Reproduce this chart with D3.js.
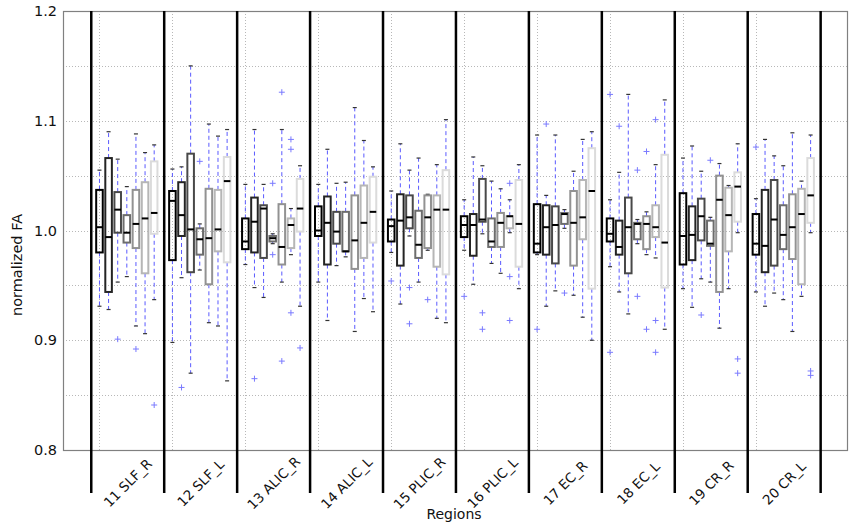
<!DOCTYPE html>
<html>
<head>
<meta charset="utf-8">
<script src="https://cdn.jsdelivr.net/npm/d3@7/dist/d3.min.js"></script>
<style>
  html, body { margin: 0; padding: 0; background: #fff; }
  svg { display: block; font-family: "DejaVu Sans", sans-serif; }
</style>
</head>
<body>
<svg id="chart" width="850" height="528"></svg>
<script>
// Region names along the x axis
const regions = ["11 SLF_R", "12 SLF_L", "13 ALIC_R", "14 ALIC_L", "15 PLIC_R",
                 "16 PLIC_L", "17 EC_R", "18 EC_L", "19 CR_R", "20 CR_L"];

// Seven groups per region, drawn black to light gray
const groupShades = ["#000000", "#242424", "#494949", "#6d6d6d", "#929292", "#b6b6b6", "#dbdbdb"];

// Box statistics, one row per region, one column per group
const whiskerLow = [
  [0.931, 0.928, 0.953, 0.958, 0.913, 0.906, 0.937],
  [0.898, 0.957, 0.870, 0.964, 0.916, 0.913, 0.863],
  [0.969, 0.948, 0.939, 0.988, 0.953, 0.978, 0.931],
  [0.953, 0.918, 0.968, 0.976, 0.908, 0.938, 0.926],
  [0.980, 0.933, 0.995, 0.953, 0.982, 0.920, 0.916],
  [0.982, 0.951, 0.997, 0.970, 0.961, 0.998, 0.947],
  [0.978, 0.931, 0.945, 1.002, 0.941, 0.921, 0.900],
  [0.967, 0.944, 0.924, 0.988, 0.978, 0.975, 0.910],
  [0.947, 0.930, 0.956, 0.953, 0.911, 0.947, 0.998],
  [0.944, 0.931, 0.943, 0.937, 0.908, 0.940, 0.998]
];
const quartile1 = [
  [0.980, 0.944, 0.998, 0.989, 0.984, 0.961, 0.997],
  [0.973, 0.995, 0.962, 0.978, 0.951, 0.981, 0.971],
  [0.983, 0.980, 0.975, 0.990, 0.969, 0.984, 0.999],
  [0.995, 0.969, 0.988, 0.981, 0.965, 0.975, 0.989],
  [0.990, 0.968, 1.002, 0.975, 0.984, 0.967, 0.960],
  [0.994, 0.977, 1.008, 0.985, 0.985, 1.002, 0.967],
  [0.980, 0.978, 0.970, 1.006, 0.968, 0.992, 0.947],
  [0.990, 0.978, 0.961, 0.992, 0.983, 0.994, 0.948],
  [0.969, 0.973, 0.991, 0.986, 0.944, 0.981, 1.008],
  [0.978, 0.962, 0.968, 0.983, 0.974, 0.951, 1.007]
];
const medians = [
  [1.003, 0.994, 1.019, 0.998, 1.006, 1.011, 1.016],
  [1.027, 1.014, 1.001, 0.992, 0.993, 1.001, 1.045],
  [0.990, 1.008, 1.020, 0.993, 0.985, 1.005, 1.020],
  [1.000, 1.007, 0.999, 0.981, 0.991, 1.007, 1.017],
  [1.004, 1.009, 1.012, 0.987, 1.012, 1.019, 1.019],
  [1.005, 1.005, 1.010, 0.990, 1.007, 1.013, 1.006],
  [0.988, 1.003, 1.005, 1.015, 1.007, 1.012, 1.036],
  [0.997, 0.985, 1.003, 1.006, 1.006, 1.003, 0.989],
  [0.995, 0.996, 1.013, 0.988, 1.028, 1.014, 1.040],
  [0.988, 0.986, 1.010, 0.996, 1.003, 1.015, 1.032]
];
const quartile3 = [
  [1.037, 1.066, 1.035, 1.014, 1.037, 1.044, 1.063],
  [1.036, 1.044, 1.070, 1.002, 1.038, 1.037, 1.067],
  [1.011, 1.030, 1.023, 0.995, 1.024, 1.011, 1.047],
  [1.022, 1.031, 1.017, 1.017, 1.032, 1.041, 1.049],
  [1.010, 1.033, 1.032, 1.018, 1.032, 1.032, 1.055],
  [1.013, 1.015, 1.047, 1.011, 1.016, 1.013, 1.046],
  [1.024, 1.023, 1.022, 1.016, 1.036, 1.046, 1.075],
  [1.011, 1.009, 1.030, 1.007, 1.013, 1.023, 1.069],
  [1.034, 1.022, 1.029, 1.009, 1.050, 1.039, 1.053],
  [1.015, 1.037, 1.046, 1.023, 1.033, 1.038, 1.066]
];
const whiskerHigh = [
  [1.055, 1.090, 1.065, 1.040, 1.088, 1.071, 1.078],
  [1.056, 1.058, 1.150, 1.006, 1.097, 1.086, 1.092],
  [1.042, 1.092, 1.042, 0.997, 1.092, 1.020, 1.059],
  [1.042, 1.074, 1.043, 1.044, 1.112, 1.082, 1.058],
  [1.036, 1.079, 1.055, 1.066, 1.033, 1.060, 1.101],
  [1.028, 1.067, 1.059, 1.045, 1.038, 1.028, 1.060],
  [1.087, 1.032, 1.087, 1.019, 1.054, 1.083, 1.090],
  [1.028, 1.053, 1.124, 1.010, 1.017, 1.060, 1.119],
  [1.066, 1.077, 1.054, 1.012, 1.061, 1.041, 1.079],
  [1.029, 1.083, 1.068, 1.059, 1.089, 1.045, 1.087]
];

// Outliers: [region index, group index, value]
const outliers = [
  [0, 2, 0.901], [0, 4, 0.892], [0, 6, 0.841],
  [1, 1, 0.857], [1, 3, 1.063],
  [2, 1, 0.865], [2, 3, 1.043], [2, 3, 0.978], [2, 4, 1.126], [2, 4, 0.881],
  [2, 5, 1.083], [2, 5, 1.074], [2, 5, 0.925], [2, 6, 0.893],
  [4, 0, 0.954], [4, 2, 0.948], [4, 2, 0.915], [4, 4, 0.937],
  [5, 0, 0.940], [5, 2, 0.925], [5, 2, 0.910], [5, 5, 1.043], [5, 5, 0.958], [5, 5, 0.918],
  [6, 0, 0.910], [6, 1, 1.097], [6, 3, 0.943],
  [7, 0, 1.124], [7, 0, 0.889], [7, 1, 1.095], [7, 3, 1.055], [7, 3, 0.940],
  [7, 4, 1.072], [7, 4, 0.910], [7, 5, 1.101], [7, 5, 0.918], [7, 5, 0.889],
  [8, 2, 0.923], [8, 3, 1.064], [8, 6, 0.883], [8, 6, 0.870],
  [9, 0, 1.076], [9, 6, 0.872], [9, 6, 0.868]
];

const yTicks = [0.8, 0.9, 1.0, 1.1, 1.2];
const yGrid = [0.85, 0.9, 0.95, 1.0, 1.05, 1.1, 1.15];

// Layout
const plot = { left: 63, right: 848, top: 11, bottom: 450 };
const slotsPerRegion = 8;
const svg = d3.select("#chart");

// Boxes sit at positions 8*r + g + 1; separators between regions
const x = d3.scaleLinear().domain([-3.0, 83.1]).range([plot.left, plot.right]);
const y = d3.scaleLinear().domain([0.8, 1.2]).range([plot.bottom, plot.top]);
const pos = (r, g) => slotsPerRegion * r + g + 1;
const boxHalf = 0.36;
const capHalf = 0.22;

// Grid
const grid = svg.append("g").attr("stroke", "#b8b8b8").attr("stroke-width", 1)
  .attr("stroke-dasharray", "1,2");
grid.selectAll("line.h").data(yGrid).join("line").attr("class", "h")
  .attr("x1", plot.left).attr("x2", plot.right)
  .attr("y1", d => Math.round(y(d)) + 0.5).attr("y2", d => Math.round(y(d)) + 0.5);
grid.selectAll("line.v").data(regions).join("line").attr("class", "v")
  .attr("x1", (d, i) => Math.round(x(pos(i, 0))) + 0.5)
  .attr("x2", (d, i) => Math.round(x(pos(i, 0))) + 0.5)
  .attr("y1", plot.top).attr("y2", plot.bottom);

// Frame
svg.append("rect")
  .attr("x", plot.left + 0.5).attr("y", plot.top + 0.5)
  .attr("width", plot.right - plot.left - 1).attr("height", plot.bottom - plot.top)
  .attr("fill", "none").attr("stroke", "#808080").attr("stroke-width", 1.2);

// Build per-box records from the statistic tables
const boxes = [];
regions.forEach((name, r) => {
  groupShades.forEach((shade, g) => {
    boxes.push({
      r, g, shade,
      lo: whiskerLow[r][g], q1: quartile1[r][g], med: medians[r][g],
      q3: quartile3[r][g], hi: whiskerHigh[r][g]
    });
  });
});

const bg = svg.append("g");

// Whiskers
bg.selectAll("line.wl").data(boxes).join("line").attr("class", "wl")
  .attr("x1", d => x(pos(d.r, d.g))).attr("x2", d => x(pos(d.r, d.g)))
  .attr("y1", d => y(d.q1)).attr("y2", d => y(d.lo))
  .attr("stroke", "#5a5aff").attr("stroke-width", 1).attr("stroke-dasharray", "4,3");
bg.selectAll("line.wh").data(boxes).join("line").attr("class", "wh")
  .attr("x1", d => x(pos(d.r, d.g))).attr("x2", d => x(pos(d.r, d.g)))
  .attr("y1", d => y(d.q3)).attr("y2", d => y(d.hi))
  .attr("stroke", "#5a5aff").attr("stroke-width", 1).attr("stroke-dasharray", "4,3");

// Caps
["lo", "hi"].forEach(k => {
  bg.selectAll("line.cap-" + k).data(boxes).join("line").attr("class", "cap-" + k)
    .attr("x1", d => x(pos(d.r, d.g) - capHalf)).attr("x2", d => x(pos(d.r, d.g) + capHalf))
    .attr("y1", d => y(d[k])).attr("y2", d => y(d[k]))
    .attr("stroke", "#333").attr("stroke-width", 1.2);
});

// Boxes
bg.selectAll("rect.box").data(boxes).join("rect").attr("class", "box")
  .attr("x", d => x(pos(d.r, d.g) - boxHalf))
  .attr("width", d => x(pos(d.r, d.g) + boxHalf) - x(pos(d.r, d.g) - boxHalf))
  .attr("y", d => y(d.q3))
  .attr("height", d => y(d.q1) - y(d.q3))
  .attr("fill", "none").attr("stroke", d => d.shade).attr("stroke-width", 2);

// Medians
bg.selectAll("line.med").data(boxes).join("line").attr("class", "med")
  .attr("x1", d => x(pos(d.r, d.g) - boxHalf)).attr("x2", d => x(pos(d.r, d.g) + boxHalf))
  .attr("y1", d => y(d.med)).attr("y2", d => y(d.med))
  .attr("stroke", "#000").attr("stroke-width", 2);

// Outliers as '+' markers
const fl = bg.selectAll("g.flier").data(outliers).join("g").attr("class", "flier")
  .attr("transform", d => `translate(${x(pos(d[0], d[1]))},${y(d[2])})`)
  .attr("stroke", "#7a7aff").attr("stroke-width", 1);
fl.append("line").attr("x1", -3).attr("x2", 3).attr("y1", 0).attr("y2", 0);
fl.append("line").attr("x1", 0).attr("x2", 0).attr("y1", -3).attr("y2", 3);

// Region separators, extending below the axis
svg.append("g").selectAll("line").data(d3.range(regions.length + 1)).join("line")
  .attr("x1", k => x(slotsPerRegion * k + 0.1)).attr("x2", k => x(slotsPerRegion * k + 0.1))
  .attr("y1", plot.top).attr("y2", 493)
  .attr("stroke", "#000").attr("stroke-width", 2.5);

// Y tick labels
svg.append("g").selectAll("text").data(yTicks).join("text")
  .attr("x", 57).attr("y", d => y(d)).attr("dy", "0.36em")
  .attr("text-anchor", "end").attr("font-size", 14.5).attr("fill", "#111")
  .text(d => d.toFixed(1));

// Region labels, rotated
svg.append("g").selectAll("text").data(regions).join("text")
  .attr("transform", (d, i) => `translate(${x(slotsPerRegion * i + 4) + 1},483) rotate(-45)`)
  .attr("text-anchor", "middle").attr("dy", "0.35em")
  .attr("font-size", 13.5).attr("fill", "#111")
  .text(d => d);

// Axis titles
svg.append("text").attr("x", 454).attr("y", 519)
  .attr("text-anchor", "middle").attr("font-size", 14).attr("fill", "#111")
  .text("Regions");
svg.append("text")
  .attr("transform", "translate(22,265) rotate(-90)")
  .attr("text-anchor", "middle").attr("font-size", 14.5).attr("fill", "#111")
  .text("normalized FA");
</script>
</body>
</html>
